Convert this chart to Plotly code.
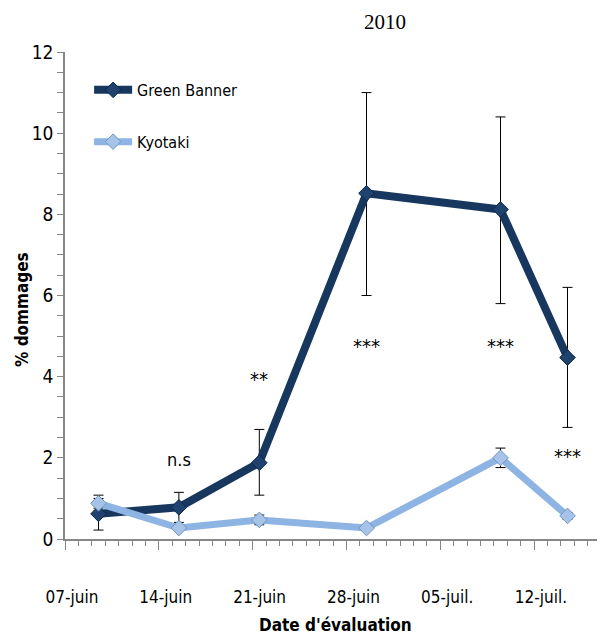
import pandas as pd
import plotly.graph_objects as go

# --- data ---
dates = ["2010-06-09", "2010-06-15", "2010-06-21", "2010-06-29", "2010-07-09", "2010-07-14"]

green_banner = [0.62, 0.78, 1.88, 8.52, 8.12, 4.47]
gb_err_plus = [0.46, 0.37, 0.82, 2.48, 2.28, 1.73]
gb_err_minus = [0.40, 0.37, 0.80, 2.52, 2.32, 1.72]

kyotaki = [0.88, 0.27, 0.47, 0.27, 2.00, 0.57]
ky_err = [0.12, 0.05, 0.12, 0.05, 0.24, 0.08]

tick_dates = ["2010-06-07", "2010-06-14", "2010-06-21", "2010-06-28", "2010-07-05", "2010-07-12"]
tick_labels = ["07-juin", "14-juin", "21-juin", "28-juin", "05-juil.", "12-juil."]

# significance marks: (date, y, text)
sig_dates = ["2010-06-15", "2010-06-21", "2010-06-29", "2010-07-09", "2010-07-14"]
sig_y = [1.95, 3.95, 4.75, 4.75, 2.05]
sig_text = ["n.s", "**", "***", "***", "***"]

FONT = "DejaVu Sans Condensed, Liberation Sans, sans-serif"
AXIS_GREY = "#868686"

# page body has an 8px margin: shrink the figure so it fits the 605x639 window
W, H = 597, 631
L, R, T, B = 57, 4, 44, 100
PW, PH = W - L - R, H - T - B


def font(size):
    return dict(family=FONT, size=size, color="#000000")


# Excel-style "between tick marks": ticks sit half a day before each category
half_day = pd.Timedelta(hours=12)
tick_pos = [pd.Timestamp(d) - half_day for d in tick_dates]
x_start = pd.Timestamp("2010-06-07") - half_day
x_end = pd.Timestamp("2010-07-17") - half_day

fig = go.Figure()

fig.add_trace(go.Scatter(
    x=dates, y=green_banner, name="Green Banner",
    mode="lines+markers", legendgroup="gb",
    line=dict(color="#17375E", width=8),
    marker=dict(symbol="diamond", size=12, color="#1F426E",
                line=dict(color="#0F2744", width=1)),
    error_y=dict(type="data", array=gb_err_plus, arrayminus=gb_err_minus,
                 color="#000000", thickness=1, width=5),
))

fig.add_trace(go.Scatter(
    x=dates, y=kyotaki, name="Kyotaki",
    mode="lines+markers", legendgroup="ky",
    line=dict(color="#8DB4E2", width=7),
    marker=dict(symbol="diamond", size=12, color="#A7C4E8",
                line=dict(color="#6F94C4", width=1)),
    error_y=dict(type="data", array=ky_err,
                 color="#000000", thickness=1, width=5),
))

for d, y, t in zip(sig_dates, sig_y, sig_text):
    fig.add_annotation(x=d, y=y, text=t, showarrow=False,
                       font=font(18 if t == "n.s" else 20))

# title and axis titles placed as annotations (pixel positions of the reference)
fig.add_annotation(text="2010", xref="paper", yref="paper",
                   x=(385 - 65) / PW, y=1 + 30 / PH, showarrow=False,
                   xanchor="center", yanchor="middle",
                   font=dict(family="Liberation Serif, Times New Roman, serif",
                             size=21, color="#000000"))
fig.add_annotation(text="<b>% dommages</b>", xref="paper", yref="paper",
                   x=(22 - 65) / PW, y=(539 - 310) / PH, textangle=-90,
                   xanchor="center", yanchor="middle",
                   showarrow=False, font=font(17))
fig.add_annotation(text="<b>Date d'évaluation</b>", xref="paper", yref="paper",
                   x=(335 - 65) / PW, y=-(625 - 539) / PH, showarrow=False,
                   xanchor="center", yanchor="middle", font=font(17))

fig.update_layout(
    width=W, height=H,
    margin=dict(l=L, r=R, t=T, b=B),
    paper_bgcolor="white", plot_bgcolor="white",
    font=font(17),
    showlegend=True,
    legend=dict(x=0.045, y=0.957, xanchor="left", yanchor="top",
                bgcolor="rgba(0,0,0,0)", itemwidth=38,
                tracegroupgap=28, font=font(16)),
)

fig.update_xaxes(
    type="date", range=[x_start, x_end],
    tickmode="array", tickvals=tick_pos, ticktext=tick_labels,
    ticklabelshift=7, ticklabelstandoff=33,
    ticks="outside", ticklen=9, tickcolor=AXIS_GREY,
    tickfont=font(17),
    minor=dict(tickmode="linear", tick0=x_start, dtick=86400000,
               ticks="outside", ticklen=5, tickcolor=AXIS_GREY),
    showline=True, linecolor=AXIS_GREY, linewidth=1.5,
    showgrid=False, zeroline=False,
)

fig.update_yaxes(
    range=[0, 12], dtick=2, tick0=0,
    ticks="outside", ticklen=6, tickcolor=AXIS_GREY,
    tickfont=font(19),
    minor=dict(dtick=0.5, ticks="outside", ticklen=6, tickcolor=AXIS_GREY),
    showline=True, linecolor=AXIS_GREY, linewidth=1.5,
    showgrid=False, zeroline=False,
)

fig.write_html("out.html")
